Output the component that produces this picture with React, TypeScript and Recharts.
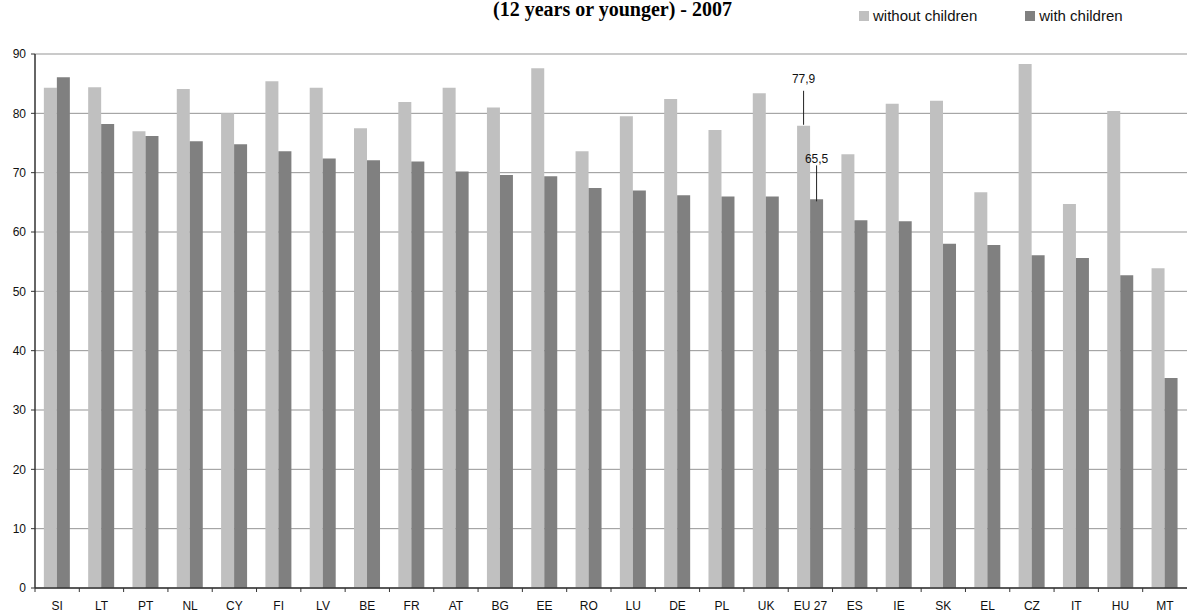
import {
  Bar,
  BarChart,
  CartesianGrid,
  LabelList,
  Legend,
  XAxis,
  YAxis,
} from "recharts";

const countries = [
  "SI", "LT", "PT", "NL", "CY", "FI", "LV", "BE", "FR", "AT", "BG", "EE", "RO",
  "LU", "DE", "PL", "UK", "EU 27", "ES", "IE", "SK", "EL", "CZ", "IT", "HU", "MT",
];
const withoutChildren = [
  84.3, 84.4, 77.0, 84.1, 80.0, 85.4, 84.3, 77.5, 81.9, 84.3, 81.0, 87.6, 73.6,
  79.5, 82.4, 77.2, 83.4, 77.9, 73.1, 81.6, 82.1, 66.7, 88.3, 64.7, 80.4, 53.9,
];
const withChildren = [
  86.1, 78.2, 76.2, 75.3, 74.8, 73.6, 72.4, 72.1, 71.9, 70.2, 69.6, 69.4, 67.4,
  67.0, 66.2, 66.0, 66.0, 65.5, 62.0, 61.8, 58.0, 57.8, 56.1, 55.6, 52.7, 35.4,
];
const seriesNames = ["without children", "with children"];
const yTicks = [0, 10, 20, 30, 40, 50, 60, 70, 80, 90];
const highlighted = "EU 27";
const title = "(12 years or younger) - 2007";

const data = countries.map((c, i) => ({
  c,
  without: withoutChildren[i],
  with: withChildren[i],
}));

const W = 1187;
const H = 614;
const TOP = 54;
const Y_AXIS_W = 35;
const X_AXIS_H = 26;
const PLOT_BOTTOM = H - X_AXIS_H;
const BAND = (W - Y_AXIS_W) / countries.length;
const SANS = "Arial, 'Liberation Sans', sans-serif";

const fmt = (v: number) => v.toFixed(1).replace(".", ",");

// leader line + value above one bar of the highlighted category
const callout =
  (lift: number, drop: number, textGap: number) => (props: any) => {
    const { x, y, width, value, index } = props;
    if (countries[index] !== highlighted) return null;
    const cx = Number(x) + Number(width) / 2;
    const top = Number(y);
    return (
      <g>
        <line x1={cx} x2={cx} y1={top + drop} y2={top - lift} stroke="#222" strokeWidth={1} />
        <text
          x={cx}
          y={top - lift - textGap}
          textAnchor="middle"
          fontSize={12}
          fontFamily={SANS}
          fill="#111"
        >
          {fmt(Number(value))}
        </text>
      </g>
    );
  };

const XTick = (props: any) => {
  const { x, payload } = props;
  const edge = x - BAND / 2;
  return (
    <g>
      <line x1={edge} x2={edge} y1={PLOT_BOTTOM} y2={PLOT_BOTTOM + 4} stroke="#333" />
      <text x={x} y={PLOT_BOTTOM + 22} textAnchor="middle" fontSize={12} fontFamily={SANS} fill="#111">
        {payload.value}
      </text>
    </g>
  );
};

const LegendContent = ({ payload }: any) => {
  const items = [...(payload || [])].sort(
    (a: any, b: any) => seriesNames.indexOf(a.value) - seriesNames.indexOf(b.value)
  );
  return (
    <div style={{ display: "flex", fontFamily: SANS, fontSize: 15, color: "#111" }}>
      {items.map((p: any, i: number) => (
        <span
          key={p.value}
          style={{ display: "flex", alignItems: "center", marginRight: i === 0 ? 48 : 0 }}
        >
          <span style={{ width: 10, height: 10, background: p.color, marginRight: 4 }} />
          {p.value}
        </span>
      ))}
    </div>
  );
};

export default function App() {
  return (
    <div style={{ position: "absolute", left: 0, top: 0, width: W, height: H, background: "#fff" }}>
      <div
        style={{
          position: "absolute",
          left: 0,
          width: 1225,
          top: -2,
          textAlign: "center",
          fontFamily: "'Liberation Serif', 'Times New Roman', serif",
          fontWeight: "bold",
          fontSize: 20,
          lineHeight: "22px",
          color: "#000",
          whiteSpace: "nowrap",
        }}
      >
        {title}
      </div>
      <BarChart
        width={W}
        height={H}
        data={data}
        margin={{ top: TOP, right: 0, left: 0, bottom: 0 }}
        barCategoryGap="20%"
        barGap={0}
      >
        <CartesianGrid vertical={false} stroke="#959595" strokeWidth={1} />
        <XAxis
          dataKey="c"
          height={X_AXIS_H}
          interval={0}
          tickLine={false}
          axisLine={{ stroke: "#333", strokeWidth: 1.5 }}
          tick={<XTick />}
        />
        <YAxis
          width={Y_AXIS_W}
          domain={[0, 90]}
          ticks={yTicks}
          interval={0}
          tickSize={4}
          tickMargin={5}
          axisLine={{ stroke: "#333", strokeWidth: 1.5 }}
          tickLine={{ stroke: "#333" }}
          tick={{ fontSize: 12, fontFamily: SANS, fill: "#111" }}
        />
        <Legend
          layout="horizontal"
          verticalAlign="middle"
          align="center"
          content={<LegendContent />}
          wrapperStyle={{ top: 7, left: 859, width: "auto", height: "auto" }}
        />
        <Bar dataKey="without" name={seriesNames[0]} fill="#c0c0c0" isAnimationActive={false}>
          <LabelList dataKey="without" content={callout(35, -1, 8)} />
        </Bar>
        <Bar dataKey="with" name={seriesNames[1]} fill="#808080" isAnimationActive={false}>
          <LabelList dataKey="with" content={callout(34, 2, 2)} />
        </Bar>
      </BarChart>
    </div>
  );
}
